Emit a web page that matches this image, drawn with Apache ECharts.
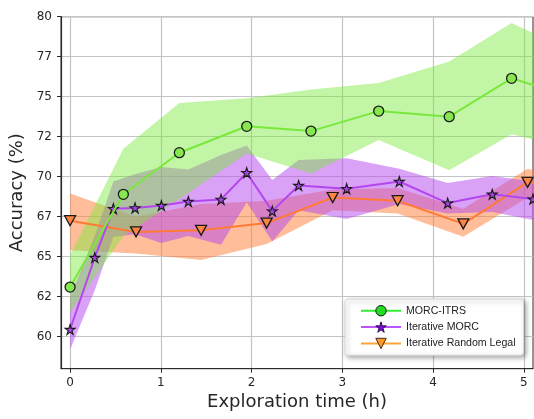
<!DOCTYPE html>
<html>
<head>
<meta charset="utf-8">
<script src="https://cdn.jsdelivr.net/npm/echarts@6/dist/echarts.min.js"></script>
<style>
  html, body { margin: 0; padding: 0; background: #ffffff; }
  #chart { width: 534px; height: 419px; }
</style>
</head>
<body>
<div id="chart"></div>
<script>
// Axis ticks
const xTickValues = [0, 1, 2, 3, 4, 5];
const yTickValues = [60, 62.5, 65, 67.5, 70, 72.5, 75, 77.5, 80];
const yTickLabels = ['60', '62', '65', '67', '70', '72', '75', '77', '80'];

// MORC-ITRS: exploration time (h), mean accuracy and band bounds (%)
const morcX    = [0, 0.587, 1.204, 1.946, 2.654, 3.40, 4.177, 4.864, 5.4];
const morcMean = [63.1, 68.9, 71.5, 73.15, 72.85, 74.1, 73.75, 76.15, 75.2];
const morcLow  = [61.5, 66.3, 68.6, 71.45, 70.2, 72.3, 70.4, 72.65, 71.9];
const morcHigh = [65.1, 71.75, 74.6, 74.9, 75.45, 75.85, 77.2, 79.6, 78.2];

// Iterative MORC
const iterX    = [0, 0.272, 0.477, 0.716, 1.006, 1.303, 1.663, 1.946, 2.228, 2.518, 3.047, 3.627, 4.16, 4.651, 5.1];
const iterMean = [60.45, 64.95, 68.0, 68.05, 68.2, 68.45, 68.58, 70.25, 67.85, 69.45, 69.25, 69.7, 68.35, 68.9, 68.6];
const iterLow  = [59.2, 62.9, 66.25, 66.4, 65.85, 66.3, 65.75, 68.4, 65.95, 67.9, 67.35, 68.3, 67.7, 67.8, 67.3];
const iterHigh = [62.5, 66.3, 69.7, 70.15, 70.6, 70.45, 71.35, 71.95, 69.8, 71.05, 71.15, 70.5, 69.6, 70.05, 69.7];

// Iterative Random Legal
const randX    = [0, 0.727, 1.443, 2.166, 2.893, 3.609, 4.332, 5.04, 5.4];
const randMean = [67.25, 66.55, 66.65, 67.1, 68.7, 68.5, 67.05, 69.65, 69.4];
const randLow  = [65.4, 65.2, 64.8, 65.8, 67.9, 67.7, 66.25, 68.7, 68.5];
const randHigh = [68.95, 67.5, 68.3, 68.5, 69.2, 69.3, 68.0, 70.5, 70.0];

const STAR = 'path://M0,-1L0.224,-0.308L0.951,-0.309L0.362,0.118L0.588,0.809L0,0.381L-0.588,0.809L-0.362,0.118L-0.951,-0.309L-0.224,-0.308Z';
const FONT = 'DejaVu Sans';

// Shaded spread between lower and upper bounds, drawn as one polygon
function band(xs, lo, hi, color, opacity, z) {
  const data = xs.map((x, i) => [x, lo[i], hi[i]]);
  return {
    type: 'custom',
    z: z,
    silent: true,
    clip: true,
    animation: false,
    data: data,
    encode: { x: 0, y: [1, 2] },
    renderItem: function (params, api) {
      if (params.dataIndex !== 0) return null;
      const top = data.map(d => api.coord([d[0], d[2]]));
      const bot = data.map(d => api.coord([d[0], d[1]])).reverse();
      const cs = params.coordSys;
      return {
        type: 'polygon',
        shape: { points: top.concat(bot) },
        style: { fill: color, opacity: opacity },
        clipPath: { type: 'rect', shape: { x: cs.x, y: cs.y, width: cs.width, height: cs.height } }
      };
    }
  };
}

function meanLine(name, xs, ys, lineColor, fill, symbol, size, rotate, border, z) {
  return {
    type: 'line',
    name: name,
    z: z,
    clip: true,
    animation: false,
    data: xs.map((x, i) => [x, ys[i]]),
    symbol: symbol,
    symbolSize: size,
    symbolRotate: rotate,
    showAllSymbol: true,
    lineStyle: { color: lineColor, width: 2 },
    itemStyle: { color: fill, borderColor: '#1a1a1a', borderWidth: border },
    emphasis: { disabled: true }
  };
}

const chart = echarts.init(document.getElementById('chart'), null, { renderer: 'canvas' });

chart.setOption({
  backgroundColor: '#ffffff',
  animation: false,
  grid: {
    left: 61, right: 1, top: 16.7, bottom: 50.3,
    show: true, borderColor: '#2a2a2a', borderWidth: 1,
    outerBoundsMode: 'none'
  },
  xAxis: {
    type: 'value',
    min: -0.1, max: 5.1,
    name: 'Exploration time (h)',
    nameLocation: 'middle',
    nameGap: 25,
    nameTextStyle: { fontFamily: FONT, fontSize: 18, color: '#262626' },
    axisLine: { show: true, onZero: false, lineStyle: { color: '#2a2a2a', width: 1.2 } },
    axisTick: { show: true, length: 4, customValues: xTickValues, lineStyle: { color: '#2a2a2a' } },
    axisLabel: { customValues: xTickValues, margin: 8, fontFamily: FONT, fontSize: 12, color: '#262626' },
    splitLine: { show: true, lineStyle: { color: '#c4c4c4', width: 1.2 } }
  },
  yAxis: {
    type: 'value',
    min: 58, max: 80,
    name: 'Accuracy (%)',
    nameLocation: 'middle',
    nameGap: 31,
    nameTextStyle: { fontFamily: FONT, fontSize: 18, color: '#262626' },
    axisLine: { show: true, onZero: false, lineStyle: { color: '#2a2a2a', width: 1.2 } },
    axisTick: { show: true, length: 4, customValues: yTickValues, lineStyle: { color: '#2a2a2a' } },
    axisLabel: {
      customValues: yTickValues, margin: 9, fontFamily: FONT, fontSize: 12, color: '#262626',
      formatter: function (v) {
        const i = yTickValues.indexOf(v);
        return i >= 0 ? yTickLabels[i] : '';
      }
    },
    splitLine: { show: true, lineStyle: { color: '#c4c4c4', width: 1.2 } }
  },
  legend: {
    orient: 'vertical',
    left: 345, top: 299,
    padding: [6, 8, 6, 15],
    itemWidth: 40, itemHeight: 13, itemGap: 5,
    selectedMode: false,
    backgroundColor: '#ffffff',
    borderColor: '#d8d8d8', borderWidth: 1, borderRadius: 3,
    shadowColor: 'rgba(0,0,0,0.35)', shadowBlur: 5, shadowOffsetX: 2, shadowOffsetY: 2,
    textStyle: { fontFamily: 'Liberation Sans', fontSize: 10.6, color: '#222222' },
    data: [
      { name: 'MORC-ITRS', itemStyle: { color: '#22dd22', borderColor: '#1a1a1a', borderWidth: 1 }, lineStyle: { color: '#33ee33', width: 2 } },
      { name: 'Iterative MORC', itemStyle: { color: '#7a10d8', borderColor: '#2a0a4a', borderWidth: 1 }, lineStyle: { color: '#bb55ff', width: 2 } },
      { name: 'Iterative Random Legal', itemStyle: { color: '#ff9a2a', borderColor: '#4a2a0a', borderWidth: 1 }, lineStyle: { color: '#ffa53a', width: 2 } }
    ]
  },
  series: [
    band(randX, randLow, randHigh, '#ff7b35', 0.5, 1),
    band(iterX, iterLow, iterHigh, '#b446f0', 0.5, 2),
    band(morcX, morcLow, morcHigh, '#7ae83a', 0.45, 3),
    meanLine('Iterative Random Legal', randX, randMean, '#ff7b35', '#ff8442', 'triangle', [11, 10], 180, 1.3, 10),
    meanLine('Iterative MORC', iterX, iterMean, '#b446f0', '#a844ea', STAR, 10, 0, 1.1, 11),
    meanLine('MORC-ITRS', morcX, morcMean, '#7ae83a', '#86e84e', 'circle', 10, 0, 1.3, 12)
  ]
});
</script>
</body>
</html>
